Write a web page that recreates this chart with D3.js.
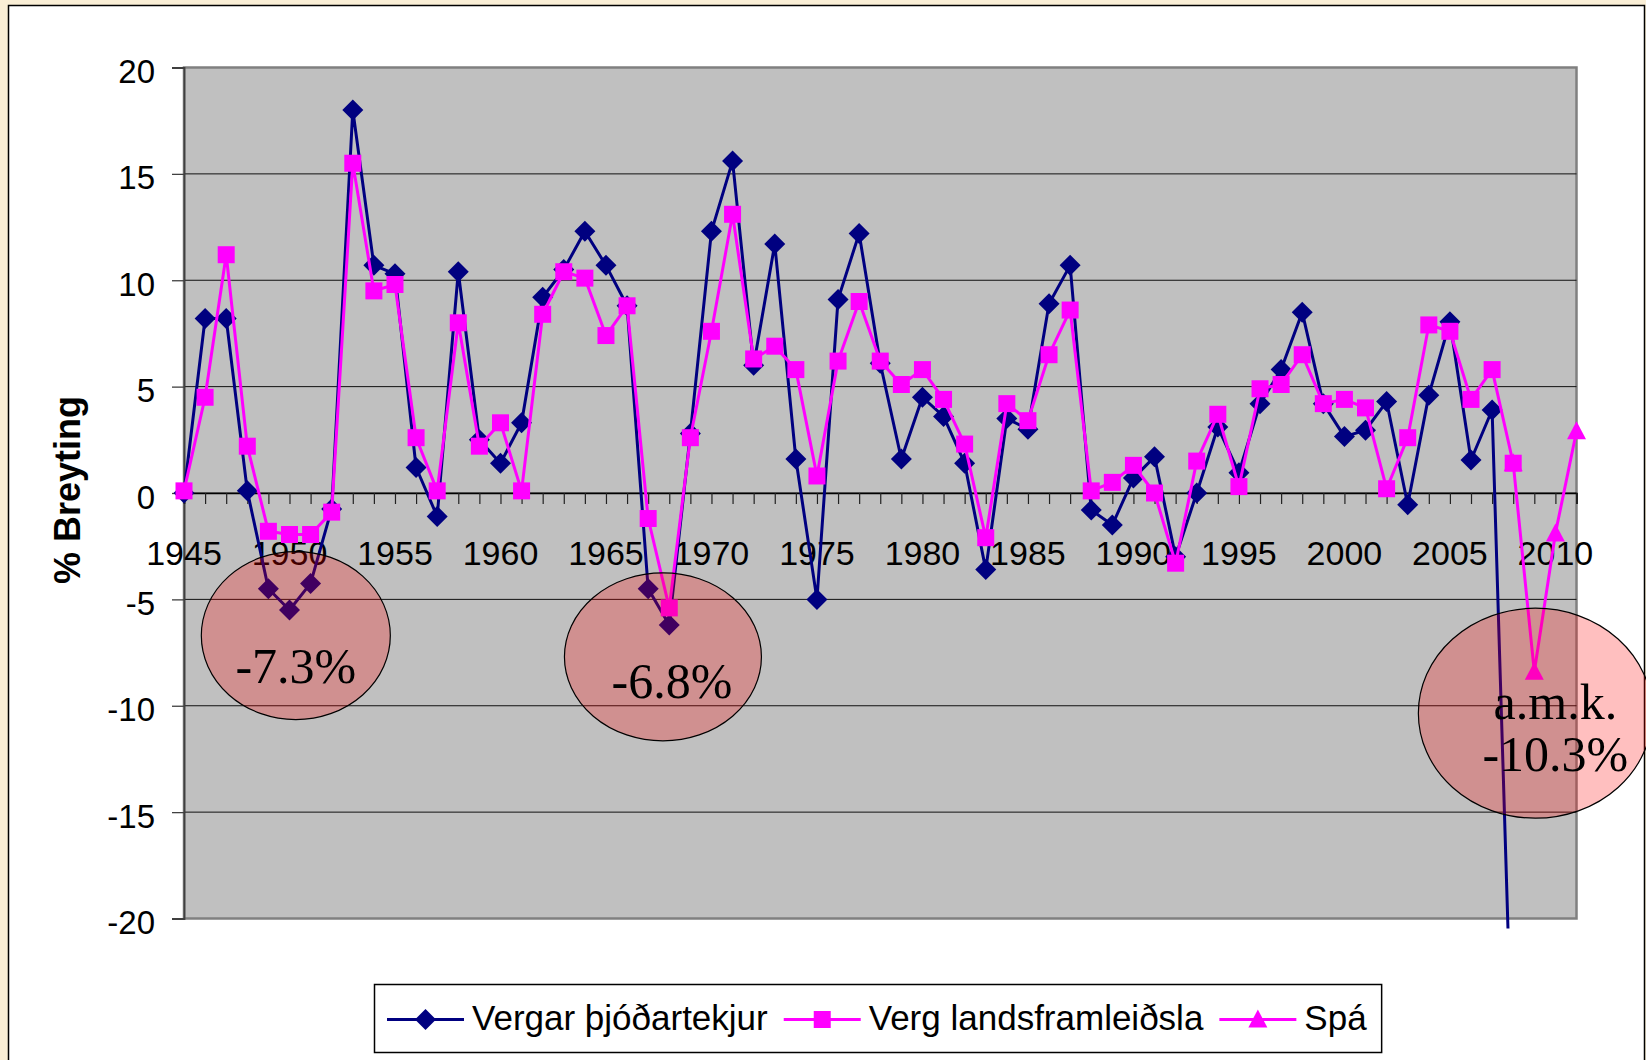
<!DOCTYPE html>
<html>
<head>
    <title>Vergar þjóðartekjur og verg landsframleiðsla</title>
    <script src="https://d3js.org/d3.v7.min.js"></script>
</head>
<style>
    body {
        margin: 0;
        background: #faefd6;
    }

    svg text {
        font-family: "Liberation Sans", Arial, sans-serif;
    }
</style>
<body>
    <svg class='chart'></svg>
</body>
<script>
    // categories (years)
    var years = [1945, 1946, 1947, 1948, 1949, 1950, 1951, 1952, 1953, 1954,
        1955, 1956, 1957, 1958, 1959, 1960, 1961, 1962, 1963, 1964,
        1965, 1966, 1967, 1968, 1969, 1970, 1971, 1972, 1973, 1974,
        1975, 1976, 1977, 1978, 1979, 1980, 1981, 1982, 1983, 1984,
        1985, 1986, 1987, 1988, 1989, 1990, 1991, 1992, 1993, 1994,
        1995, 1996, 1997, 1998, 1999, 2000, 2001, 2002, 2003, 2004,
        2005, 2006, 2007, 2008, 2009, 2010, 2011
    ]

    // Vergar þjóðartekjur, 1945-2008
    var gni = [0.0, 8.2, 8.2, 0.1, -4.5, -5.5, -4.25, -0.75, 18.0, 10.7,
        10.3, 1.2, -1.1, 10.4, 2.5, 1.4, 3.3, 9.2, 10.5, 12.3,
        10.7, 8.8, -4.5, -6.2, 2.8, 12.3, 15.6, 6.0, 11.7, 1.6,
        -5.0, 9.1, 12.2, 6.1, 1.6, 4.5, 3.6, 1.4, -3.6, 3.5,
        3.0, 8.9, 10.7, -0.8, -1.5, 0.7, 1.7, -3.0, 0.0, 3.1,
        0.95, 4.2, 5.8, 8.5, 4.2, 2.65, 2.95, 4.3, -0.55, 4.6,
        8.05, 1.55, 3.9, -28.5, null, null, null
    ]

    // Verg landsframleiðsla, 1945-2008
    var gdp = [0.1, 4.5, 11.2, 2.2, -1.8, -1.95, -1.95, -0.9, 15.5, 9.5,
        9.8, 2.6, 0.1, 8.0, 2.2, 3.3, 0.1, 8.4, 10.4, 10.1,
        7.4, 8.8, -1.2, -5.4, 2.6, 7.6, 13.1, 6.3, 6.9, 5.8,
        0.8, 6.2, 9.0, 6.2, 5.1, 5.8, 4.4, 2.3, -2.1, 4.2,
        3.4, 6.5, 8.6, 0.1, 0.5, 1.3, 0.0, -3.3, 1.5, 3.7,
        0.3, 4.9, 5.1, 6.5, 4.2, 4.4, 4.0, 0.2, 2.6, 7.9,
        7.6, 4.4, 5.8, 1.4, null, null, null
    ]

    // Spá, 2008-2011
    var spaYears = [2008, 2009, 2010, 2011]
    var spa = [1.4, -8.4, -1.9, 2.9]

    var xTickLabels = [1945, 1950, 1955, 1960, 1965, 1970, 1975, 1980, 1985, 1990, 1995, 2000, 2005, 2010]
    var yTicks = [-20, -15, -10, -5, 0, 5, 10, 15, 20]

    var seriesNames = ['Vergar þjóðartekjur', 'Verg landsframleiðsla', 'Spá']

    // callouts: anchor in data units, text lines
    var callouts = [
        { year: 1950.3, value: -6.7, lines: ['-7.3%'] },
        { year: 1967.7, value: -7.7, lines: ['-6.8%'] },
        { year: 2009.05, value: -10.35, lines: ['a.m.k.', '-10.3%'] }
    ]

    var width = 1646
    var height = 1060
    var plot = { left: 184, right: 1576.5, top: 67.5, bottom: 918.5 }
    var navy = '#000080'
    var pink = '#ff00ff'

    var svg = d3.select('.chart')
        .attr('width', width)
        .attr('height', height)
        .style('display', 'block')

    // chart area
    svg.append('rect')
        .attr('x', 8.5).attr('y', 5.5)
        .attr('width', 1636).attr('height', 1070)
        .attr('fill', '#fff')
        .attr('stroke', '#000')
        .attr('stroke-width', 1.5)

    var x = d3.scaleLinear()
        .domain([years[0], years[years.length - 1]])
        .range([plot.left, plot.right])
    var y = d3.scaleLinear()
        .domain([-20, 20])
        .range([plot.bottom, plot.top])

    // plot area
    svg.append('rect')
        .attr('x', plot.left).attr('y', plot.top)
        .attr('width', plot.right - plot.left)
        .attr('height', plot.bottom - plot.top)
        .attr('fill', '#c0c0c0')
        .attr('stroke', '#808080')
        .attr('stroke-width', 2.5)

    //gridlines
    svg.append('g')
        .selectAll('line')
        .data(yTicks.filter(d => d > -20 && d < 20))
        .join('line')
        .attr('x1', plot.left).attr('x2', plot.right)
        .attr('y1', d => y(d)).attr('y2', d => y(d))
        .attr('stroke', '#111')
        .attr('stroke-width', 1)

    // y axis
    var yAxis = d3.axisLeft(y)
        .tickValues(yTicks)
        .tickSize(12)
        .tickPadding(17)
        .tickFormat(d => String(d))
    var yG = svg.append('g')
        .attr('transform', 'translate(' + plot.left + ',0)')
        .call(yAxis)
    yG.select('.domain').attr('stroke', '#404040').attr('stroke-width', 1.8)
    yG.selectAll('.tick line').attr('stroke', '#404040').attr('stroke-width', 1.3)
    yG.selectAll('.tick text')
        .attr('font-size', 33)
        .attr('font-family', '"Liberation Sans", Arial, sans-serif')
        .attr('fill', '#000')
        .attr('dy', 15)

    // x axis at zero
    var xAxis = d3.axisBottom(x)
        .tickValues(years)
        .tickSize(11)
        .tickFormat('')
    var xG = svg.append('g')
        .attr('transform', 'translate(0,' + y(0) + ')')
        .call(xAxis)
    xG.select('.domain').attr('stroke', '#000').attr('stroke-width', 1.5)
    xG.selectAll('.tick line').attr('stroke', '#222').attr('stroke-width', 1.2)

    svg.append('g')
        .selectAll('text')
        .data(xTickLabels)
        .join('text')
        .attr('x', d => x(d))
        .attr('y', 565)
        .attr('text-anchor', 'middle')
        .attr('font-size', 34)
        .text(d => d)

    // y label
    svg.append('text')
        .attr('transform', 'translate(80,490) rotate(-90)')
        .attr('text-anchor', 'middle')
        .attr('font-size', 36)
        .attr('font-weight', 'bold')
        .text('% Breyting')

    svg.append('clipPath')
        .attr('id', 'plotclip')
        .append('rect')
        .attr('x', plot.left - 5).attr('y', plot.top - 20)
        .attr('width', plot.right - plot.left + 10)
        .attr('height', plot.bottom - plot.top + 30)

    var line = d3.line()
        .defined(d => d.v != null)
        .x(d => x(d.year))
        .y(d => y(d.v))

    var gniData = years.map((yr, i) => ({ year: yr, v: gni[i] }))
    var gdpData = years.map((yr, i) => ({ year: yr, v: gdp[i] }))
    var spaData = spaYears.map((yr, i) => ({ year: yr, v: spa[i] }))

    var diamond = 'M0,-10.5L10.5,0L0,10.5L-10.5,0Z'
    var triangle = 'M0,-10L9.5,8L-9.5,8Z'
    var square = 'M-8.5,-8.5H8.5V8.5H-8.5Z'

    function drawSeries(data, color, shape) {
        svg.append('path')
            .datum(data)
            .attr('clip-path', 'url(#plotclip)')
            .attr('fill', 'none')
            .attr('stroke', color)
            .attr('stroke-width', 3)
            .attr('stroke-linejoin', 'round')
            .attr('d', line)
        svg.append('g')
            .selectAll('path')
            .data(data.filter(d => d.v != null && d.v >= -20))
            .join('path')
            .attr('transform', d => 'translate(' + x(d.year) + ',' + y(d.v) + ')')
            .attr('d', shape)
            .attr('fill', color)
    }

    drawSeries(gniData, navy, diamond)
    drawSeries(spaData, pink, triangle)
    drawSeries(gdpData, pink, square)

    // callout ellipses
    var ellipseSize = [[94.5, 84], [98.5, 84], [117, 105]]
    var textOffset = [[0, 47], [9, 41], [20, 6]]
    callouts.forEach(function (c, i) {
        var cx = x(c.year)
        var cy = y(c.value)
        svg.append('ellipse')
            .attr('cx', cx).attr('cy', cy)
            .attr('rx', ellipseSize[i][0]).attr('ry', ellipseSize[i][1])
            .attr('fill', 'rgb(255,0,0)')
            .attr('fill-opacity', 0.25)
            .attr('stroke', '#000')
            .attr('stroke-width', 1.2)
        c.lines.forEach(function (t, j) {
            svg.append('text')
                .attr('x', cx + textOffset[i][0])
                .attr('y', cy + textOffset[i][1] + j * 52)
                .attr('text-anchor', 'middle')
                .attr('font-size', 50)
                .style('font-family', '"Liberation Serif", "Times New Roman", serif')
                .text(t)
        })
    })

    // legend
    var legend = svg.append('g')
    var legendBox = legend.append('rect')
        .attr('x', 374.5).attr('y', 984.5)
        .attr('height', 68)
        .attr('fill', '#fff')
        .attr('stroke', '#000')
        .attr('stroke-width', 1.5)
    var lx = 387
    var legendShapes = [diamond, square, triangle]
    var legendColors = [navy, pink, pink]
    seriesNames.forEach(function (name, i) {
        legend.append('line')
            .attr('x1', lx).attr('x2', lx + 77)
            .attr('y1', 1019.5).attr('y2', 1019.5)
            .attr('stroke', legendColors[i])
            .attr('stroke-width', 3)
        legend.append('path')
            .attr('transform', 'translate(' + (lx + 38.5) + ',1019.5)')
            .attr('d', legendShapes[i])
            .attr('fill', legendColors[i])
        var t = legend.append('text')
            .attr('x', lx + 85)
            .attr('y', 1030)
            .attr('font-size', 35)
            .text(name)
        lx = lx + 85 + t.node().getComputedTextLength() + 16
    })
    legendBox.attr('width', lx - 16 + 15 - 374.5)
</script>
</html>
